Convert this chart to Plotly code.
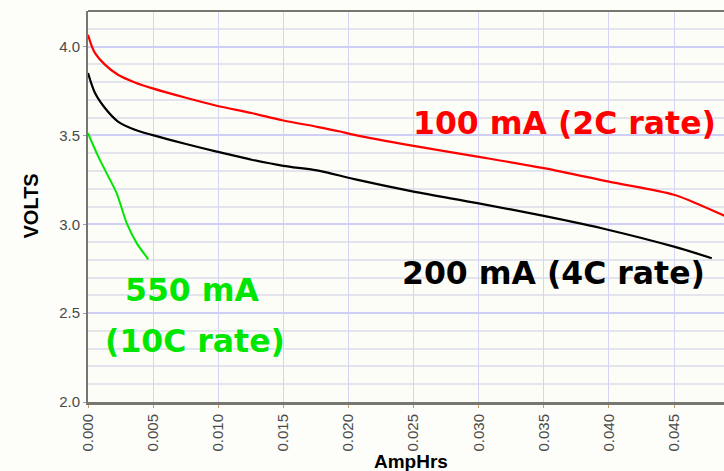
import plotly.graph_objects as go

# ---- data ----
red_x = [0.0, 0.0003, 0.00054, 0.0013, 0.0023, 0.0036, 0.0049, 0.00745, 0.00988, 0.01257,
         0.0150, 0.0177, 0.01935, 0.02045, 0.0250, 0.0299, 0.0350, 0.0400, 0.0450, 0.0470, 0.0489]
red_v = [4.066, 4.0, 3.963, 3.898, 3.841, 3.798, 3.766, 3.713, 3.667, 3.626,
         3.584, 3.547, 3.522, 3.503, 3.441, 3.381, 3.316, 3.240, 3.166, 3.109, 3.047]

black_x = [0.0, 0.00054, 0.0013, 0.0023, 0.0036, 0.0049, 0.00745, 0.00988, 0.01257, 0.0150,
           0.0177, 0.02045, 0.0250, 0.0299, 0.0350, 0.0400, 0.0450, 0.0479]
black_v = [3.851, 3.738, 3.654, 3.578, 3.532, 3.503, 3.453, 3.409, 3.363, 3.329,
           3.302, 3.254, 3.184, 3.119, 3.047, 2.968, 2.874, 2.809]

green_x = [0.0, 0.00079, 0.00156, 0.0022, 0.00297, 0.00374, 0.00463]
green_v = [3.513, 3.381, 3.269, 3.175, 3.006, 2.894, 2.803]

x_ticks = [0.000, 0.005, 0.010, 0.015, 0.020, 0.025, 0.030, 0.035, 0.040, 0.045]
y_ticks = [2.0, 2.5, 3.0, 3.5, 4.0]

labels = ["100 mA (2C rate)", "200 mA (4C rate)", "550 mA", "(10C rate)"]

RED = "#ff0000"
BLACK = "#000000"
GREEN = "#00e600"

fig = go.Figure()
fig.add_trace(go.Scatter(x=red_x, y=red_v, mode="lines",
                         line=dict(color=RED, width=2.2, shape="spline", smoothing=0.8), showlegend=False))
fig.add_trace(go.Scatter(x=black_x, y=black_v, mode="lines",
                         line=dict(color=BLACK, width=2.2, shape="spline", smoothing=0.8), showlegend=False))
fig.add_trace(go.Scatter(x=green_x, y=green_v, mode="lines",
                         line=dict(color=GREEN, width=2, shape="spline", smoothing=0.6), showlegend=False))

big = dict(family="DejaVu Sans", size=31.5, weight="bold")
fig.add_annotation(x=0.03658, y=3.572, xref="x", yref="y", text=labels[0], showarrow=False,
                   font=dict(**big, color=RED), xanchor="center", yanchor="middle")
fig.add_annotation(x=0.03575, y=2.728, xref="x", yref="y", text=labels[1], showarrow=False,
                   font=dict(**big, color=BLACK), xanchor="center", yanchor="middle")
fig.add_annotation(x=0.00802, y=2.630, xref="x", yref="y", text=labels[2], showarrow=False,
                   font=dict(**big, color=GREEN), xanchor="center", yanchor="middle")
fig.add_annotation(x=0.00818, y=2.345, xref="x", yref="y", text=labels[3], showarrow=False,
                   font=dict(**big, color=GREEN), xanchor="center", yanchor="middle")

# axis titles
fig.add_annotation(x=0.508, y=-0.153, xref="paper", yref="paper", text="AmpHrs", showarrow=False,
                   font=dict(family="Liberation Sans, Arial", size=19, weight="bold", color="#000"),
                   xanchor="center", yanchor="middle")
fig.add_annotation(x=(30 - 88) / 636, y=0.5, xref="paper", yref="paper", text="VOLTS", showarrow=False,
                   textangle=-90, font=dict(family="Liberation Sans, Arial", size=20, weight="bold", color="#000"),
                   xanchor="center", yanchor="middle")

# top border line
fig.add_shape(type="line", xref="paper", yref="paper", x0=0, x1=1, y0=1, y1=1,
              line=dict(color="#77776f", width=2))

tickfont = dict(family="Liberation Sans, Arial", size=15, color="#4a4a4a")
fig.update_xaxes(range=[0, 0.04884], tickvals=x_ticks, ticktext=[f"{v:.3f}" for v in x_ticks],
                 tickangle=-90, tickfont=tickfont, showgrid=True, gridcolor="#d4d4f6", gridwidth=1,
                 showline=True, linecolor="#77776f", linewidth=3, zeroline=False,
                 ticks="outside", ticklen=3, tickcolor="#c89a6a")
fig.update_yaxes(range=[2.0, 4.2], tickvals=y_ticks, ticktext=[f"{v:.1f}" for v in y_ticks],
                 tickfont=tickfont, showgrid=True, gridcolor="#cfcff5", gridwidth=1.5,
                 minor=dict(dtick=0.1, showgrid=True, gridcolor="#e4e4ee", gridwidth=1.5),
                 showline=True, linecolor="#77776f", linewidth=2, zeroline=False,
                 ticks="outside", ticklen=3, tickcolor="#9a9ac8")

fig.update_layout(width=724, height=471, margin=dict(l=88, r=0, t=11, b=69),
                  plot_bgcolor="#fdfdf7", paper_bgcolor="#fdfdf9", showlegend=False)

fig.write_html("out.html")
